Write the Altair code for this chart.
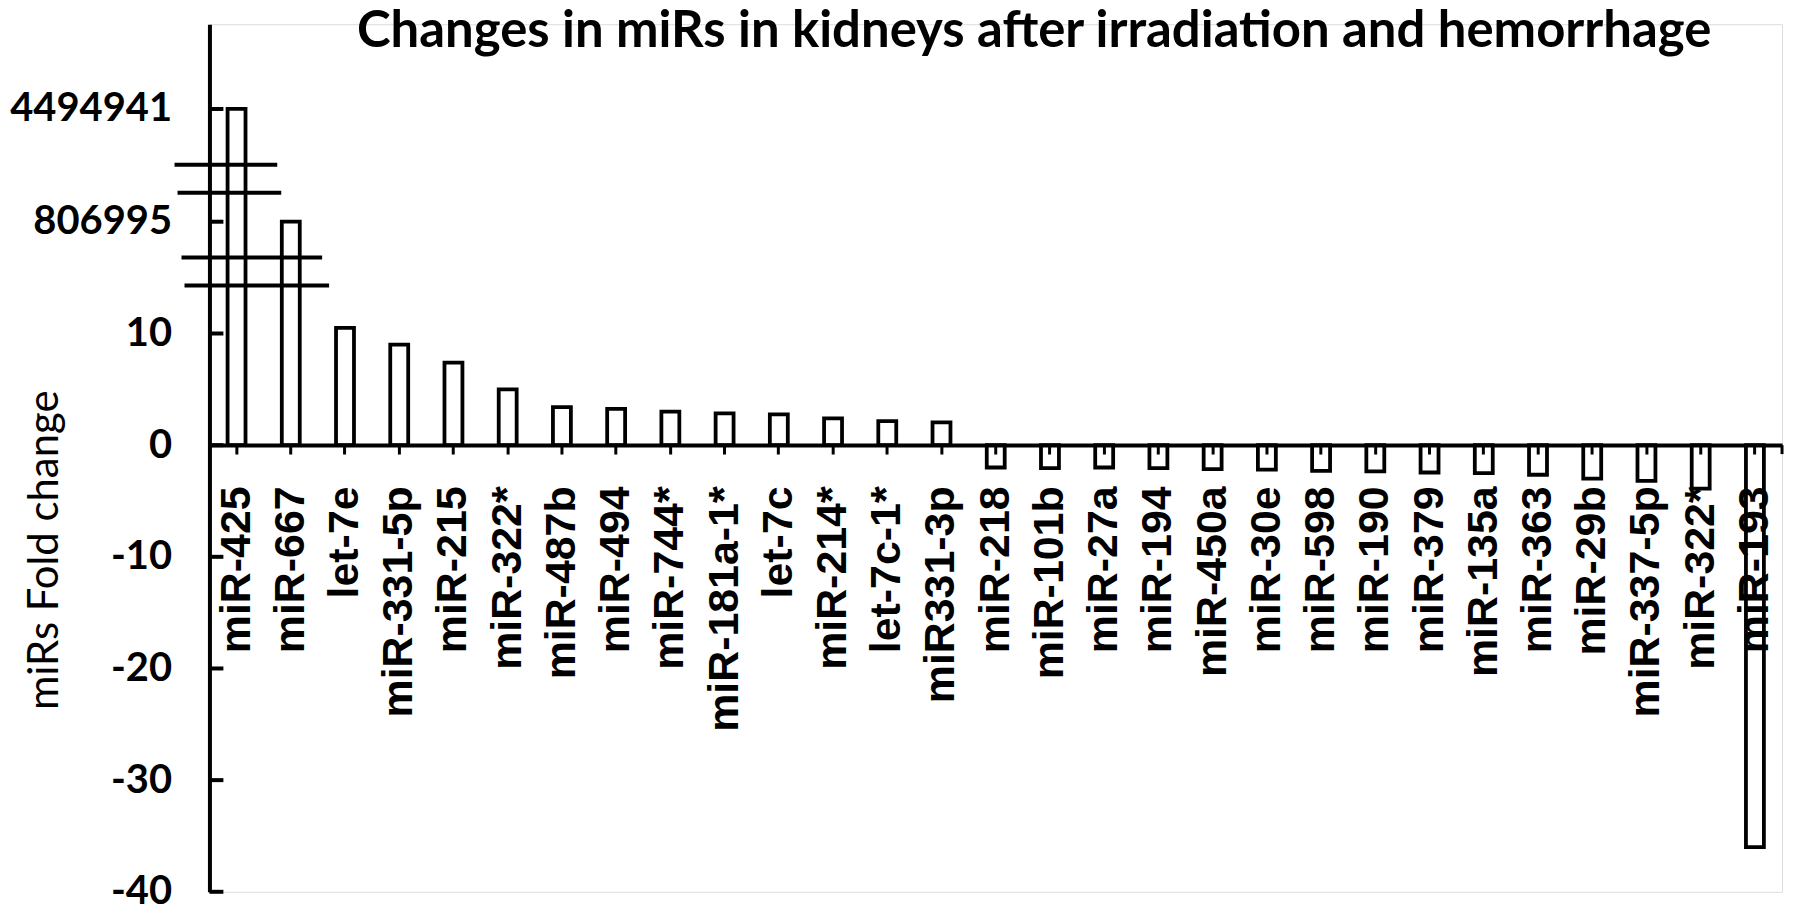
import altair as alt
import pandas as pd

# ---- data ----
mirs = ["miR-425", "miR-667", "let-7e", "miR-331-5p", "miR-215", "miR-322*", "miR-487b",
        "miR-494", "miR-744*", "miR-181a-1*", "let-7c", "miR-214*", "let-7c-1*", "miR331-3p",
        "miR-218", "miR-101b", "miR-27a", "miR-194", "miR-450a", "miR-30e", "miR-598",
        "miR-190", "miR-379", "miR-135a", "miR-363", "miR-29b", "miR-337-5p", "miR-322* ",
        "miR-193"]
fold_change = [4494941, 806995, 10.5, 9.0, 7.4, 5.0, 3.4,
               3.25, 3.0, 2.85, 2.75, 2.4, 2.15, 2.05,
               -2.0, -2.05, -2.0, -2.05, -2.15, -2.2, -2.3,
               -2.35, -2.45, -2.5, -2.65, -3.0, -3.2, -3.9,
               -36.0]
tick_values = [4494941, 806995, 10, 0, -10, -20, -30, -40]

title_text = "Changes in miRs in kidneys after irradiation and hemorrhage"
y_title = "miRs Fold change"

# broken (piecewise) y axis: lower part -40..14.3, then two short windows
seg_domain = [-40, 14.3, 803400, 809900, 4489300, 4503500]
seg_range = [870, 262, 234, 169, 141, 0]
break_values = [4489300, 809900, 803400, 14.3]
break_extents = [(-35, 68), (-32, 72), (-28, 113), (-25, 120)]

W, H = 1577, 870

df = pd.DataFrame({"mir": mirs, "fc": fold_change})
df_ticks = pd.DataFrame({"v": tick_values})
df_one = pd.DataFrame({"t": [title_text]})

yscale = alt.Scale(type="linear", domain=seg_domain, range=seg_range, zero=False, nice=False)
xscale = alt.Scale(paddingInner=0, paddingOuter=0)

x_axis = alt.Axis(orient="bottom", offset=-(870 - 422), domainColor="black", domainWidth=4,
                  tickColor="black", tickWidth=3, tickSize=9, labelAngle=270,
                  labelFont="Liberation Sans", labelFontWeight="bold", labelFontSize=43,
                  labelColor="black", labelPadding=32, labelOverlap=False, labelBound=False,
                  labelLimit=0, title=None, zindex=1)

y_axis = alt.Axis(values=tick_values, labelExpr="datum.value + ''", domainColor="black",
                  domainWidth=4, ticks=False, labelFont="Lato", labelFontWeight="bold",
                  labelFontSize=40, labelColor="black", labelPadding=38, labelOverlap=False,
                  labelLimit=0,
                  title=y_title, titleFont="Lato", titleFontWeight="normal", titleFontSize=42,
                  titleColor="black", titleAngle=270, titleX=-165, titleY=527,
                  titleAlign="center", titleBaseline="middle", grid=False, zindex=1)

bars = alt.Chart(df).mark_bar(fill="white", stroke="black", strokeWidth=3.8, size=18).encode(
    x=alt.X("mir:N", sort=None, scale=xscale, axis=x_axis),
    y=alt.Y("fc:Q", scale=yscale, axis=y_axis),
)

yticks = alt.Chart(df_ticks).mark_rule(color="black", strokeWidth=4).encode(
    y=alt.Y("v:Q", scale=yscale),
    x=alt.value(0), x2=alt.value(14),
)

end_tick = alt.Chart(df_one).mark_rule(color="black", strokeWidth=3).encode(
    y=alt.datum(0, scale=yscale), y2=alt.datum(-0.8),
    x=alt.value(W),
)

title = alt.Chart(df_one).mark_text(font="Lato", fontSize=51, fontWeight="bold", color="black",
                                    align="center", baseline="alphabetic").encode(
    text="t:N", x=alt.value(827), y=alt.value(23),
)

layers = [bars, yticks, end_tick, title]
for v, (a, b) in zip(break_values, break_extents):
    layers.append(
        alt.Chart(df_one).mark_rule(color="black", strokeWidth=4).encode(
            y=alt.datum(v, scale=yscale), x=alt.value(a), x2=alt.value(b)
        )
    )

chart = alt.layer(*layers).properties(
    width=W, height=H,
    autosize=alt.AutoSizeParams(type="none"),
    padding={"left": 202, "top": 15, "right": 10, "bottom": 20},
).configure_view(stroke=None).configure(background="white")

chart.save("out.html", embed_options={"renderer": "svg", "actions": False})
